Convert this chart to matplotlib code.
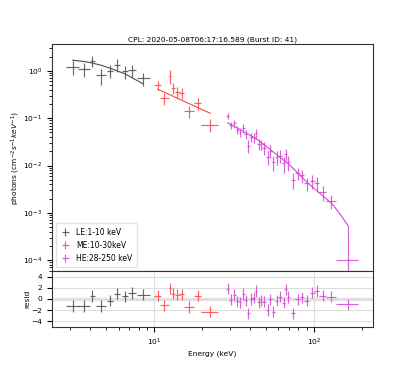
import matplotlib

matplotlib.use("Agg")
import matplotlib.pyplot as plt  # noqa: E402

TITLE = "CPL: 2020-05-08T06:17:16.589 (Burst ID: 41)"
LABELS = ["LE:1-10 keV", "ME:10-30keV", "HE:28-250 keV"]
COLORS = ["#4d4d4d", "#ff4545", "#d545d5"]

# LE: 1-10 keV
le_energy = [3.10, 3.65, 4.12, 4.64, 5.31, 5.87, 6.56, 7.32, 8.57]
le_xerr = [0.27, 0.30, 0.13, 0.33, 0.26, 0.24, 0.29, 0.42, 0.80]
le_flux = [1.22, 1.09, 1.63, 0.81, 1.00, 1.34, 0.97, 1.05, 0.70]
le_yerr = [0.40, 0.35, 0.45, 0.30, 0.30, 0.40, 0.30, 0.30, 0.22]
le_model = [1.68, 1.58, 1.46, 1.32, 1.14, 1.00, 0.87, 0.71, 0.53]
le_resid = [-1.26, -1.26, 0.55, -1.26, -0.33, 0.96, 0.49, 1.08, 0.78]

# ME: 10-30 keV
me_energy = [10.54, 11.60, 12.53, 13.15, 13.99, 14.89, 16.63, 18.75, 22.49]
me_xerr = [0.50, 0.75, 0.15, 0.35, 0.45, 0.55, 1.20, 0.95, 2.80]
me_flux = [0.505, 0.264, 0.78, 0.44, 0.365, 0.34, 0.142, 0.207, 0.073]
me_yerr = [0.12, 0.07, 0.25, 0.12, 0.10, 0.09, 0.04, 0.06, 0.022]
me_model = [0.41, 0.353, 0.314, 0.291, 0.264, 0.240, 0.202, 0.168, 0.127]
me_resid = [0.61, -1.15, 1.89, 0.96, 0.78, 0.84, -1.44, 0.61, -2.30]

# HE: 28-250 keV
he_energy = [28.87, 30.15, 31.78, 33.18, 34.47, 36.16, 37.40, 38.86, 40.58,
             41.97, 43.41, 45.11, 46.65, 48.71, 51.35, 53.36, 55.70, 58.44,
             61.31, 64.63, 66.51, 69.12, 73.57, 79.06, 83.75, 90.0, 97.63,
             103.9, 113.3, 128.3, 162.4]
he_xerr = [0.6, 0.7, 0.7, 0.7, 0.7, 0.8, 0.8, 0.8, 0.9, 0.9, 0.9, 1.0, 1.0,
           1.1, 1.2, 1.2, 1.3, 1.4, 1.5, 1.6, 1.6, 1.7, 2.2, 2.5, 2.5, 3.2,
           3.8, 4.0, 5.5, 9.0, 25.0]
he_flux = [0.112, 0.0716, 0.0778, 0.0566, 0.0509, 0.0625, 0.0464, 0.0262,
           0.0407, 0.0395, 0.0477, 0.0291, 0.0282, 0.024, 0.0153, 0.0206,
           0.0118, 0.0155, 0.0161, 0.0111, 0.0173, 0.0118, 0.00505, 0.00686,
           0.00618, 0.00422, 0.00481, 0.0043, 0.00272, 0.00181, 0.0001]
he_yerr = [0.015, 0.012, 0.015, 0.011, 0.011, 0.014, 0.010, 0.008, 0.009,
           0.009, 0.011, 0.008, 0.007, 0.007, 0.005, 0.006, 0.004, 0.005,
           0.005, 0.004, 0.005, 0.004, 0.0018, 0.002, 0.002, 0.0013, 0.0016,
           0.0015, 0.0009, 0.0006, 0.00045]
he_model_energy = [28.87, 35.0, 45.0, 55.0, 70.0, 90.0, 110.0, 130.0, 150.0, 162.4]
he_model = [0.080, 0.056, 0.034, 0.020, 0.0105, 0.0045, 0.0025, 0.00155,
            0.00082, 0.00055]
he_resid = [1.83, -0.15, 0.73, -0.40, -0.56, 0.90, -0.20, -2.55, 0.00, 0.20,
            1.43, -0.56, -0.27, -0.50, -1.96, -0.09, -2.25, -0.33, 0.43,
            -0.68, 1.72, 0.37, -2.55, -0.09, 0.32, -0.27, 1.13, 1.43, 0.61,
            0.43, -0.97]

plt.rcParams["font.size"] = 5.4

fig = plt.figure(figsize=(4.15, 3.74), dpi=100)
ax = fig.add_axes([0.1253, 0.2754, 0.7735, 0.607])
rax = fig.add_axes([0.1253, 0.1257, 0.7735, 0.1497], sharex=ax)

datasets = [
    (le_energy, le_xerr, le_flux, le_yerr, le_energy, le_model, le_resid),
    (me_energy, me_xerr, me_flux, me_yerr, me_energy, me_model, me_resid),
    (he_energy, he_xerr, he_flux, he_yerr, he_model_energy, he_model, he_resid),
]

rax.axhline(0, color="#e4e4e4", linewidth=2.5, zorder=0)
for (energy, xerr, flux, yerr, menergy, model, resid), color, label in zip(
    datasets, COLORS, LABELS
):
    ax.errorbar(energy, flux, xerr=xerr, yerr=yerr, fmt="none", ecolor=color,
                elinewidth=0.85, alpha=0.85, label=label)
    ax.plot(menergy, model, color=color, linewidth=0.8)
    rax.errorbar(energy, resid, xerr=xerr, yerr=1.0, fmt="none", ecolor=color,
                 elinewidth=0.85, alpha=0.85)

ax.set_xscale("log")
ax.set_yscale("log")
ax.set_xlim(2.3, 234)
ax.set_ylim(5.9e-5, 3.7)
ax.set_ylabel("photons (cm$^{-2}s^{-1}keV^{-1}$)")
ax.yaxis.set_label_coords(-0.093, 0.5)
ax.set_title(TITLE, fontsize=5.4, pad=2)
ax.tick_params(axis="x", which="both", labelbottom=False)
ax.legend(loc="lower left", fontsize=5.5, handlelength=1.3, borderpad=0.6,
          labelspacing=0.5, edgecolor="#dddddd")

rax.set_ylim(-5, 5)
rax.set_yticks([-4, -2, 0, 2, 4])
rax.grid(True, which="major", color="#dddddd", linewidth=0.8)
rax.set_axisbelow(True)
rax.set_ylabel("resid")
rax.yaxis.set_label_coords(-0.068, 0.5)
rax.set_xlabel("Energy (keV)", labelpad=2)

for axis in (ax, rax):
    for spine in axis.spines.values():
        spine.set_color("#333333")

fig.savefig("out.png", dpi=100, facecolor="white")
